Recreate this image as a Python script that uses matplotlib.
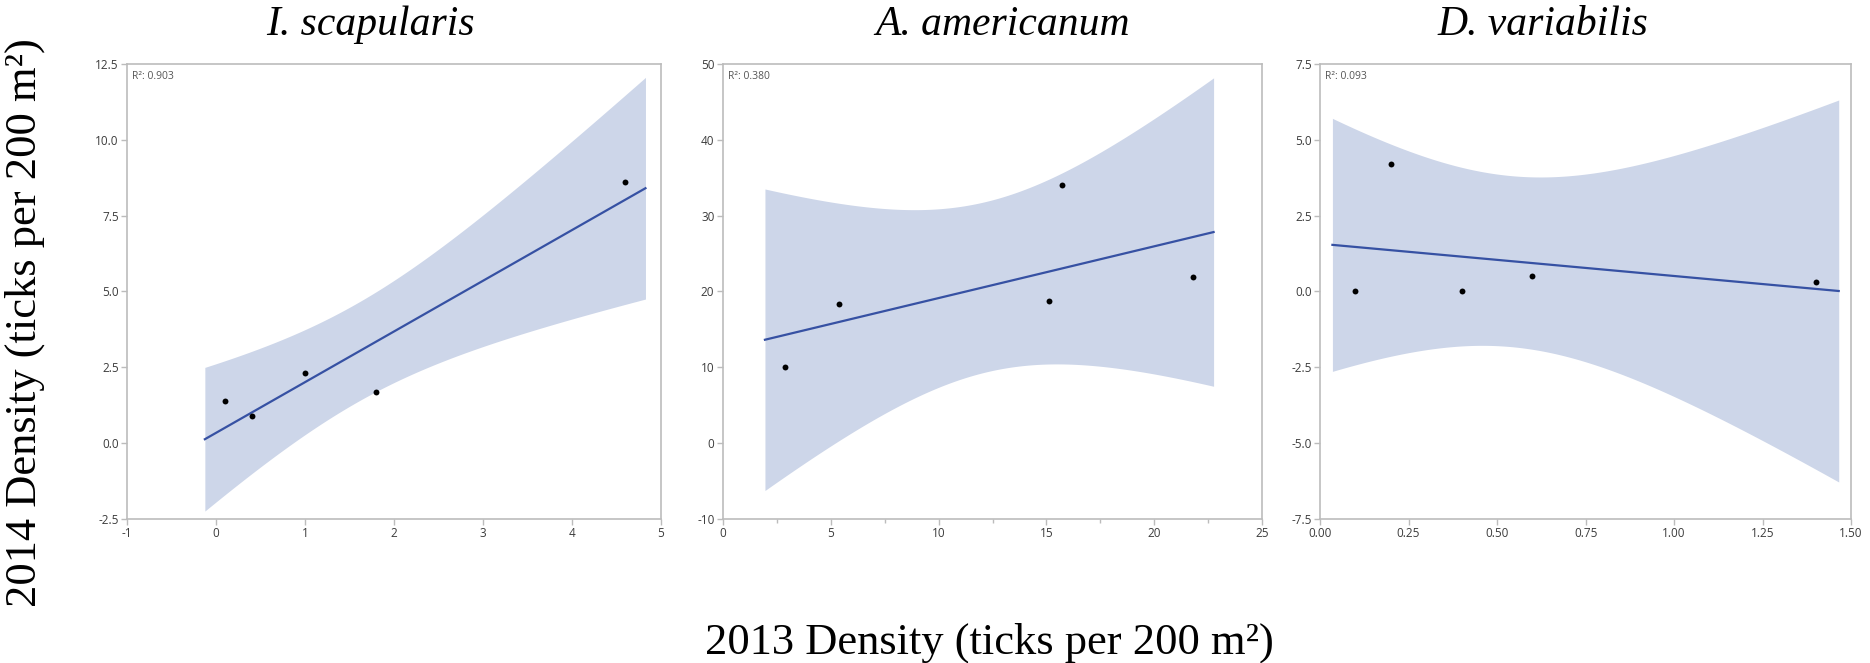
"""Tick density 2013 vs 2014, one regression panel per species."""

import matplotlib
matplotlib.use("Agg")
import matplotlib.pyplot as plt
from matplotlib.ticker import MultipleLocator
import numpy as np

# -- data -----------------------------------------------------------------
species = ["I. scapularis", "A. americanum", "D. variabilis"]

isc_2013 = [0.1, 0.4, 1.0, 1.8, 4.6]
isc_2014 = [1.4, 0.9, 2.3, 1.7, 8.6]

ame_2013 = [2.9, 5.4, 15.1, 15.7, 21.8]
ame_2014 = [10.0, 18.4, 18.8, 34.0, 21.9]

var_2013 = [0.1, 0.2, 0.4, 0.6, 1.4]
var_2014 = [0.0, 4.2, 0.0, 0.5, 0.3]

r2_labels = ["R²: 0.903", "R²: 0.380", "R²: 0.093"]

xlims = [(-1, 5), (0, 25), (0, 1.5)]
ylims = [(-2.5, 12.5), (-10, 50), (-7.5, 7.5)]
xsteps = [1, 5, 0.25]
ysteps = [2.5, 10, 2.5]
xfmt = ["{:.0f}", "{:.0f}", "{:.2f}"]
yfmt = ["{:.1f}", "{:.0f}", "{:.1f}"]

T_975_DF3 = 3.182  # two-sided 95% t, n = 5 points

BAND = "#cdd6e9"
LINE = "#3651a3"
SPINE = "#bcbcbc"
TICKTXT = "#3c3c3c"

fig = plt.figure(figsize=(18.7, 6.63), dpi=100)
lefts = [0.0679, 0.3865, 0.7059]
widths = [0.2856, 0.2885, 0.284]
bottom, height = 0.2172, 0.6863

data = [(isc_2013, isc_2014), (ame_2013, ame_2014), (var_2013, var_2014)]

for i, (xs, ys) in enumerate(data):
    ax = fig.add_axes([lefts[i], bottom, widths[i], height])
    x = np.array(xs)
    y = np.array(ys)
    n = len(x)

    # OLS fit with 95% confidence band of the mean, padded 5% past the data
    slope, icpt = np.polyfit(x, y, 1)
    pad = 0.05 * (x.max() - x.min())
    xf = np.linspace(x.min() - pad, x.max() + pad, 200)
    yf = icpt + slope * xf
    resid = y - (icpt + slope * x)
    s = np.sqrt((resid ** 2).sum() / (n - 2))
    sxx = ((x - x.mean()) ** 2).sum()
    half = T_975_DF3 * s * np.sqrt(1 / n + (xf - x.mean()) ** 2 / sxx)

    ax.fill_between(xf, yf - half, yf + half, color=BAND, lw=0, zorder=1)
    ax.plot(xf, yf, color=LINE, lw=1.6, zorder=2)
    ax.scatter(x, y, s=18, color="black", zorder=3, linewidths=0)

    ax.xaxis.set_major_locator(MultipleLocator(xsteps[i]))
    ax.yaxis.set_major_locator(MultipleLocator(ysteps[i]))
    if i == 1:
        ax.xaxis.set_minor_locator(MultipleLocator(2.5))
    ax.set_xlim(*xlims[i])
    ax.set_ylim(*ylims[i])
    xt = ax.get_xticks()
    yt = ax.get_yticks()
    ax.set_xticks(xt, [xfmt[i].format(t) for t in xt])
    ax.set_yticks(yt, [yfmt[i].format(t) for t in yt])
    ax.set_xlim(*xlims[i])
    ax.set_ylim(*ylims[i])

    for sp in ax.spines.values():
        sp.set_color(SPINE)
        sp.set_linewidth(1.2)
    ax.tick_params(which="both", direction="out", color=SPINE,
                   labelcolor=TICKTXT, labelsize=8.5, length=4, width=1,
                   pad=2)
    ax.tick_params(which="minor", length=3)
    for lab in ax.get_xticklabels() + ax.get_yticklabels():
        lab.set_family("Open Sans")

    ax.text(0.01, 0.985, r2_labels[i], transform=ax.transAxes,
            ha="left", va="top", fontsize=7.5, color="#555555",
            family="Open Sans")

title_x = [0.198, 0.536, 0.825]
for t, tx in zip(species, title_x):
    fig.text(tx, 0.962, t, ha="center", va="center", fontsize=30,
             family="Liberation Serif", style="italic")

fig.text(0.013, 0.514, "2014 Density (ticks per 200 m²)", rotation=90,
         ha="center", va="center", fontsize=32, family="Liberation Serif")
fig.text(0.529, 0.03, "2013 Density (ticks per 200 m²)",
         ha="center", va="center", fontsize=32, family="Liberation Serif")

fig.savefig("out.png", dpi=100)
plt.close(fig)
